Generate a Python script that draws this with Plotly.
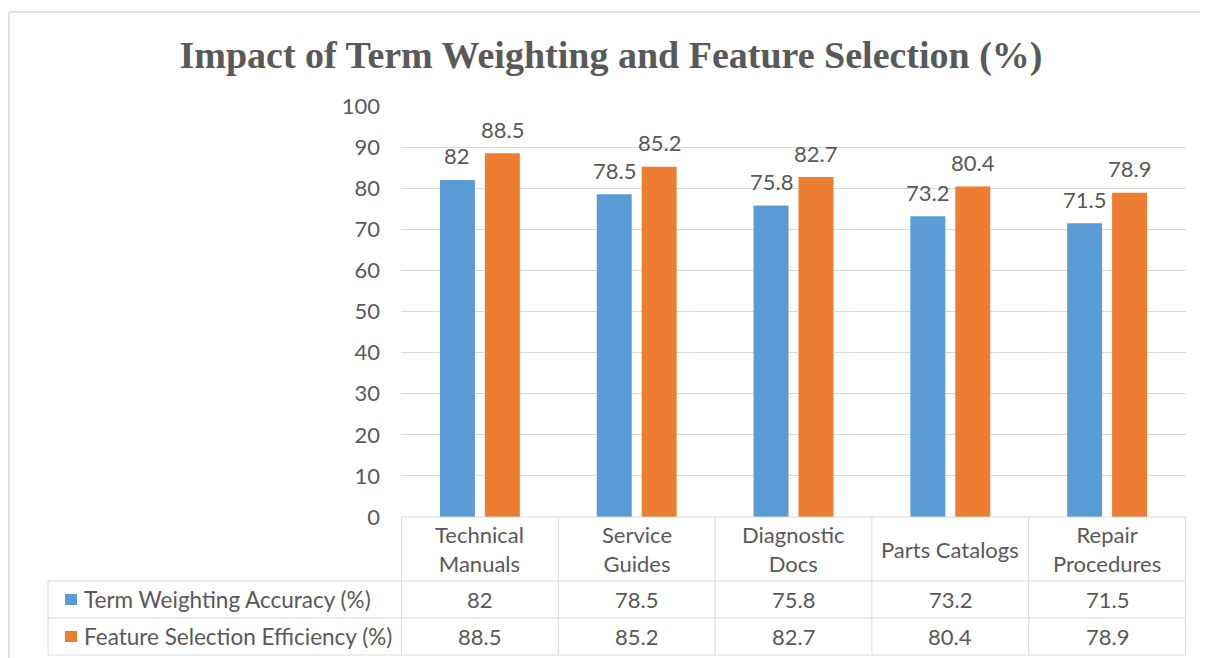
import plotly.graph_objects as go

categories = ["Technical Manuals", "Service Guides", "Diagnostic Docs", "Parts Catalogs", "Repair Procedures"]
header_labels = ["Technical<br>Manuals", "Service<br>Guides", "Diagnostic<br>Docs", "Parts Catalogs", "Repair<br>Procedures"]
series_names = ["Term Weighting Accuracy (%)", "Feature Selection Efficiency (%)"]
term_weighting = [82, 78.5, 75.8, 73.2, 71.5]
feature_selection = [88.5, 85.2, 82.7, 80.4, 78.9]
y_ticks = [0, 10, 20, 30, 40, 50, 60, 70, 80, 90, 100]

COLORS = ["#5B9BD5", "#ED7D31"]
TEXT = "#595959"
LINE = "#D9D9D9"
FONT = "Lato"
FS = 22
BARGAP = 0.427
BARGROUPGAP = 0.222

OFF = 8  # page body margin
W, H = 1208 - OFF, 658 - OFF
L, R, T, B = 401 - OFF, 22, 106 - OFF, 141
PW, PH = W - L - R, H - T - B


def px_x(p):
    return (p - OFF - L) / PW


def px_y(p):
    return 1 - (p - OFF - T) / PH


series = [term_weighting, feature_selection]

fig = go.Figure()
for name, vals, col in zip(series_names, series, COLORS):
    fig.add_trace(go.Bar(
        x=categories, y=vals, name=name, marker=dict(color=col, line=dict(width=0)),
        showlegend=False,
    ))

shapes = []
# chart border (left, top)
shapes.append(dict(type="line", xref="paper", yref="paper", x0=px_x(9), x1=px_x(9),
                   y0=px_y(12), y1=px_y(700), line=dict(color=LINE, width=1.5)))
shapes.append(dict(type="line", xref="paper", yref="paper", x0=px_x(9), x1=px_x(1300),
                   y0=px_y(12), y1=px_y(12), line=dict(color=LINE, width=1.5)))

row_lines = [517, 581, 618, 655]
shapes.append(dict(type="line", xref="paper", yref="paper", x0=0, x1=1, y0=px_y(517), y1=px_y(517),
                   line=dict(color=LINE, width=1)))
for ry in row_lines[1:]:
    shapes.append(dict(type="line", xref="paper", yref="paper", x0=px_x(48), x1=1, y0=px_y(ry), y1=px_y(ry),
                       line=dict(color=LINE, width=1)))
shapes.append(dict(type="line", xref="paper", yref="paper", x0=px_x(48), x1=px_x(48),
                   y0=px_y(581), y1=px_y(655), line=dict(color=LINE, width=1)))
for i in range(len(categories) + 1):
    xb = i - 0.5
    shapes.append(dict(type="line", xref="x", yref="paper", x0=xb, x1=xb,
                       y0=px_y(517), y1=px_y(655), line=dict(color=LINE, width=1)))
for ry, col in zip([594, 631], COLORS):
    shapes.append(dict(type="rect", xref="paper", yref="paper", x0=px_x(65), x1=px_x(77),
                       y0=px_y(ry), y1=px_y(ry + 11), fillcolor=col, line=dict(width=0)))

annotations = []
# data labels above bars (offset to each bar's slot within the group)
slot_px = (1 - BARGAP) * PW / len(categories) / len(series)
for k, vals in enumerate(series):
    shift = (k - (len(series) - 1) / 2) * slot_px
    for cat, v in zip(categories, vals):
        annotations.append(dict(x=cat, y=v, xref="x", yref="y", text=str(v), showarrow=False,
                                xanchor="center", yanchor="middle", xshift=shift, yshift=24,
                                font=dict(family=FONT, size=FS, color=TEXT)))
for i, lab in enumerate(header_labels):
    annotations.append(dict(x=i, y=px_y(549), xref="x", yref="paper", text=lab, showarrow=False,
                            xanchor="center", yanchor="middle",
                            font=dict(family=FONT, size=FS, color=TEXT)))
for ry, name, vals in zip([599.5, 636.5], series_names, series):
    annotations.append(dict(x=px_x(82), y=px_y(ry), xref="paper", yref="paper", text=name, showarrow=False,
                            xanchor="left", yanchor="middle", font=dict(family=FONT, size=22.5, color=TEXT)))
    for i, v in enumerate(vals):
        annotations.append(dict(x=i, y=px_y(ry), xref="x", yref="paper", text=str(v), showarrow=False,
                                xanchor="center", yanchor="middle",
                                font=dict(family=FONT, size=FS, color=TEXT)))

fig.update_layout(
    width=W, height=H,
    margin=dict(l=L, r=R, t=T, b=B, autoexpand=False),
    paper_bgcolor="white", plot_bgcolor="white",
    barmode="group", bargap=BARGAP, bargroupgap=BARGROUPGAP,
    title=dict(text="<b>Impact of Term Weighting and Feature Selection (%)</b>",
               x=(611 - OFF) / W, xanchor="center", y=1 - (55 - OFF) / H, yanchor="middle", yref="container",
               font=dict(family="Liberation Serif", size=38, color=TEXT)),
    xaxis=dict(showticklabels=False, showgrid=False, zeroline=False, showline=False, ticks=""),
    yaxis=dict(range=[0, 100], tickvals=y_ticks, showgrid=True, gridcolor=LINE, gridwidth=1,
               zeroline=False, showline=False, ticks="",
               tickfont=dict(family=FONT, size=FS, color=TEXT), ticklabelstandoff=20),
    shapes=shapes, annotations=annotations,
    showlegend=False,
)

fig.write_html("out.html")
